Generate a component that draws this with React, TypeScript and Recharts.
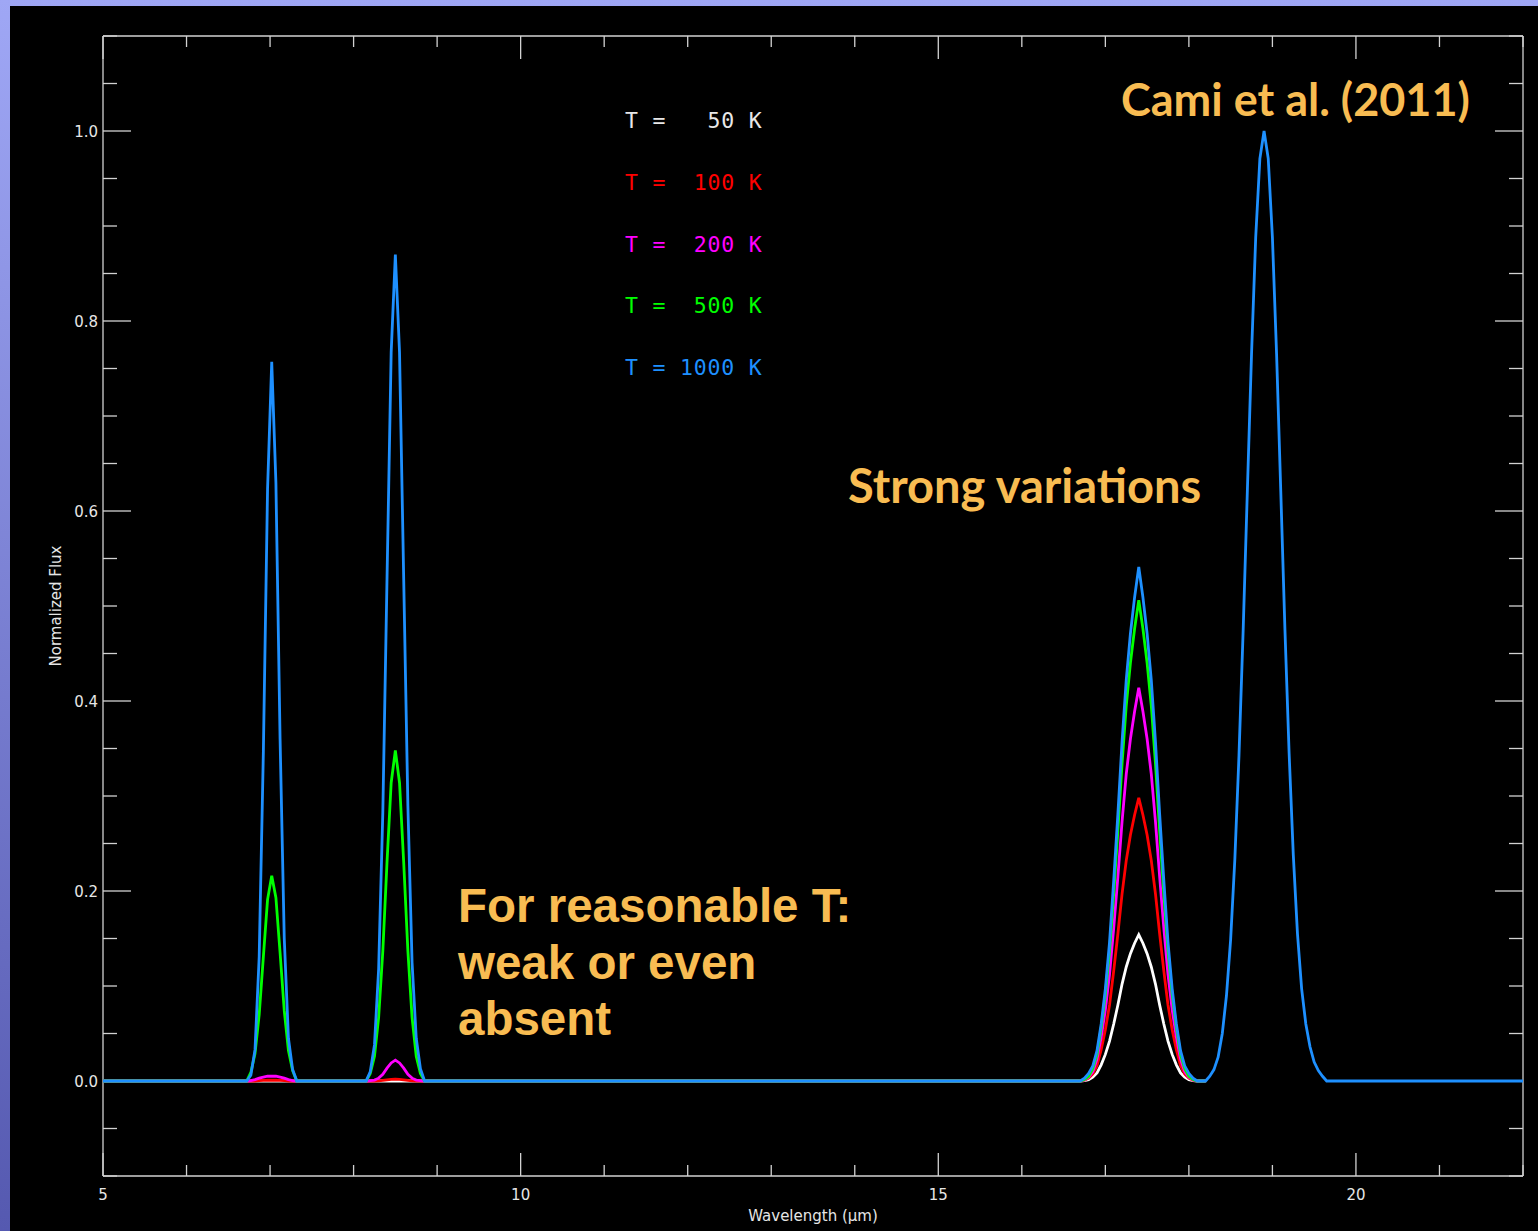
import { Line, LineChart, XAxis, YAxis } from "recharts"

// wavelength grid (micron): flat continuum ends plus the four band regions
const wavelength = [
  5.0,
  6.72, 6.77, 6.82, 6.87, 6.92, 6.97, 7.02, 7.07, 7.12, 7.17, 7.22, 7.27, 7.32,
  8.15, 8.2, 8.25, 8.3, 8.35, 8.4, 8.45, 8.5, 8.55, 8.6, 8.65, 8.7, 8.75, 8.8, 8.85,
  16.7, 16.75, 16.8, 16.85, 16.9, 16.95, 17.0, 17.05, 17.1, 17.15, 17.2, 17.25, 17.3, 17.35,
  17.4, 17.45, 17.5, 17.55, 17.6, 17.65, 17.7, 17.75, 17.8, 17.85, 17.9, 17.95, 18.0, 18.05, 18.1,
  18.15, 18.2, 18.25, 18.3, 18.35, 18.4, 18.45, 18.5, 18.55, 18.6, 18.65, 18.7, 18.75, 18.8,
  18.85, 18.9, 18.95, 19.0, 19.05, 19.1, 19.15, 19.2, 19.25, 19.3, 19.35, 19.4, 19.45, 19.5,
  19.55, 19.6, 19.65,
  22.0,
]

// the cooler models stop just past 18.2 micron (null = no data)
const flux50 = [
  0,
  0, 0, 0, 0, 0, 0, 0, 0, 0, 0, 0, 0, 0,
  0, 0, 0, 0, 0, 0, 0, 0, 0, 0, 0, 0, 0, 0, 0,
  0, 0.0005, 0.0015, 0.004, 0.0085, 0.017, 0.028, 0.042, 0.06, 0.08, 0.102, 0.12, 0.134, 0.145,
  0.154, 0.145, 0.134, 0.12, 0.102, 0.08, 0.06, 0.042, 0.028, 0.017, 0.0085, 0.004, 0.0015, 0.0005, 0,
  0, 0, null, null, null, null, null, null, null, null, null, null, null, null,
  null, null, null, null, null, null, null, null, null, null, null, null, null, null,
  null, null, null,
  null,
]

const flux100 = [
  0,
  0, 0, 0, 0.0003, 0.0006, 0.0008, 0.001, 0.0008, 0.0006, 0.0003, 0, 0, 0,
  0, 0, 0, 0.0002, 0.0006, 0.0012, 0.0018, 0.002, 0.0018, 0.0012, 0.0006, 0.0002, 0, 0, 0,
  0, 0.001, 0.003, 0.0075, 0.016, 0.033, 0.054, 0.08, 0.116, 0.155, 0.197, 0.232, 0.259, 0.28,
  0.298, 0.28, 0.259, 0.232, 0.197, 0.155, 0.116, 0.08, 0.054, 0.033, 0.016, 0.0075, 0.003, 0.001, 0,
  0, 0, null, null, null, null, null, null, null, null, null, null, null, null,
  null, null, null, null, null, null, null, null, null, null, null, null, null, null,
  null, null, null,
  null,
]

const flux200 = [
  0,
  0, 0.0005, 0.0015, 0.003, 0.004, 0.005, 0.005, 0.005, 0.004, 0.003, 0.0015, 0.0005, 0,
  0, 0.0005, 0.001, 0.003, 0.007, 0.0135, 0.019, 0.022, 0.019, 0.0135, 0.007, 0.003, 0.001, 0.0005, 0,
  0, 0.001, 0.004, 0.01, 0.023, 0.046, 0.075, 0.112, 0.161, 0.215, 0.273, 0.323, 0.36, 0.389,
  0.414, 0.389, 0.36, 0.323, 0.273, 0.215, 0.161, 0.112, 0.075, 0.046, 0.023, 0.01, 0.004, 0.001, 0,
  0, 0, null, null, null, null, null, null, null, null, null, null, null, null,
  null, null, null, null, null, null, null, null, null, null, null, null, null, null,
  null, null, null,
  null,
]

const flux500 = [
  0,
  0, 0.009, 0.029, 0.07, 0.131, 0.191, 0.216, 0.193, 0.135, 0.074, 0.032, 0.011, 0,
  0, 0.008, 0.026, 0.067, 0.137, 0.23, 0.314, 0.348, 0.314, 0.23, 0.137, 0.067, 0.026, 0.008, 0,
  0, 0.0015, 0.005, 0.013, 0.028, 0.056, 0.091, 0.137, 0.197, 0.263, 0.334, 0.395, 0.44, 0.476,
  0.506, 0.476, 0.44, 0.395, 0.334, 0.263, 0.197, 0.137, 0.091, 0.056, 0.028, 0.013, 0.005, 0.0015, 0,
  0, 0, null, null, null, null, null, null, null, null, null, null, null, null,
  null, null, null, null, null, null, null, null, null, null, null, null, null, null,
  null, null, null,
  null,
]

const flux1000 = [
  0,
  0, 0.006, 0.033, 0.131, 0.347, 0.623, 0.757, 0.63, 0.36, 0.15, 0.045, 0.012, 0,
  0, 0.01, 0.038, 0.118, 0.283, 0.528, 0.767, 0.87, 0.767, 0.528, 0.29, 0.125, 0.045, 0.013, 0,
  0, 0.003, 0.008, 0.016, 0.032, 0.06, 0.097, 0.146, 0.211, 0.281, 0.357, 0.422, 0.471, 0.509,
  0.541, 0.509, 0.471, 0.422, 0.357, 0.281, 0.211, 0.146, 0.097, 0.06, 0.032, 0.016, 0.008, 0.003, 0,
  0, 0, 0.005, 0.012, 0.025, 0.05, 0.09, 0.149, 0.233, 0.343, 0.475, 0.621, 0.765, 0.888,
  0.971, 1.0, 0.971, 0.888, 0.765, 0.621, 0.475, 0.345, 0.238, 0.155, 0.097, 0.06, 0.036, 0.02,
  0.011, 0.005, 0,
  0,
]

const xTicks = [5, 6, 7, 8, 9, 10, 11, 12, 13, 14, 15, 16, 17, 18, 19, 20, 21, 22]
const yTicks = [
  -0.1, -0.05, 0, 0.05, 0.1, 0.15, 0.2, 0.25, 0.3, 0.35, 0.4, 0.45, 0.5, 0.55, 0.6,
  0.65, 0.7, 0.75, 0.8, 0.85, 0.9, 0.95, 1.0, 1.05, 1.1,
]

const legendLabels = ["T =   50 K", "T =  100 K", "T =  200 K", "T =  500 K", "T = 1000 K"]
const seriesKeys = ["t50", "t100", "t200", "t500", "t1000"]
const seriesColors = ["#ffffff", "#ff0000", "#ff00ff", "#00ff00", "#1e90ff"]

const W = 1538
const H = 1231
const PLOT = { left: 103, right: 1523, top: 36, bottom: 1176 }
const AXIS = "#d2d2d2"
const LABEL = "#e6e6e6"
const ORANGE = "#f8bc52"

const rows = wavelength.map((w, i) => ({
  w,
  t50: flux50[i],
  t100: flux100[i],
  t200: flux200[i],
  t500: flux500[i],
  t1000: flux1000[i],
}))

const isMajorX = (v: number) => v % 5 === 0
const isMajorY = (v: number) => Math.abs(v / 0.2 - Math.round(v / 0.2)) < 1e-6

function BottomTick(props: any) {
  const { x, payload } = props
  const v = payload.value
  const major = isMajorX(v)
  return (
    <g>
      <line x1={x} x2={x} y1={PLOT.bottom} y2={PLOT.bottom - (major ? 23 : 11)} stroke={AXIS} strokeWidth={1.3} />
      {major && (
        <text x={x} y={PLOT.bottom + 24} textAnchor="middle" fill={LABEL} fontSize={15} fontFamily="DejaVu Sans">
          {v}
        </text>
      )}
    </g>
  )
}

function TopTick(props: any) {
  const { x, payload } = props
  const len = isMajorX(payload.value) ? 23 : 11
  return <line x1={x} x2={x} y1={PLOT.top} y2={PLOT.top + len} stroke={AXIS} strokeWidth={1.3} />
}

function LeftTick(props: any) {
  const { y, payload } = props
  const v = payload.value
  const major = isMajorY(v)
  return (
    <g>
      <line x1={PLOT.left} x2={PLOT.left + (major ? 28 : 14)} y1={y} y2={y} stroke={AXIS} strokeWidth={1.3} />
      {major && (
        <text x={PLOT.left - 5} y={y + 6} textAnchor="end" fill={LABEL} fontSize={15} fontFamily="DejaVu Sans">
          {v.toFixed(1)}
        </text>
      )}
    </g>
  )
}

function RightTick(props: any) {
  const { y, payload } = props
  const len = isMajorY(payload.value) ? 28 : 14
  return <line x1={PLOT.right} x2={PLOT.right - len} y1={y} y2={y} stroke={AXIS} strokeWidth={1.3} />
}

const layer = { position: "absolute" as const, left: 0, top: 0 }

export default function App() {
  return (
    <div
      style={{
        position: "absolute",
        left: 0,
        top: 0,
        width: W,
        height: H,
        overflow: "hidden",
        background: "linear-gradient(to bottom, #9fa7f5, #5559b0)",
      }}
    >
      <div style={{ position: "absolute", left: 10, top: 6, right: 0, bottom: 0, background: "#000" }} />

      {/* frame, ticks and tick labels */}
      <div style={layer}>
        <LineChart width={W} height={H} data={rows} margin={{ top: 0, right: 0, bottom: 0, left: 43 }}>
          <XAxis
            dataKey="w"
            type="number"
            domain={[5, 22]}
            ticks={xTicks}
            interval={0}
            height={55}
            tickSize={0}
            tickMargin={0}
            tickLine={false}
            tick={BottomTick}
            axisLine={{ stroke: AXIS, strokeWidth: 1.3 }}
            allowDataOverflow
          />
          <XAxis
            xAxisId="top"
            orientation="top"
            dataKey="w"
            type="number"
            domain={[5, 22]}
            ticks={xTicks}
            interval={0}
            height={36}
            tickSize={0}
            tickMargin={0}
            tickLine={false}
            tick={TopTick}
            axisLine={{ stroke: AXIS, strokeWidth: 1.3 }}
            allowDataOverflow
          />
          <YAxis
            type="number"
            domain={[-0.1, 1.1]}
            ticks={yTicks}
            interval={0}
            width={60}
            tickSize={0}
            tickMargin={0}
            tickLine={false}
            tick={LeftTick}
            axisLine={{ stroke: AXIS, strokeWidth: 1.3 }}
            allowDataOverflow
          />
          <YAxis
            yAxisId="right"
            orientation="right"
            type="number"
            domain={[-0.1, 1.1]}
            ticks={yTicks}
            interval={0}
            width={15}
            tickSize={0}
            tickMargin={0}
            tickLine={false}
            tick={RightTick}
            axisLine={{ stroke: AXIS, strokeWidth: 1.3 }}
            allowDataOverflow
          />
        </LineChart>
      </div>

      {/* spectra, drawn above the axes */}
      <div style={layer}>
        <LineChart
          width={W}
          height={H}
          data={rows}
          margin={{ top: PLOT.top, right: W - PLOT.right, bottom: H - PLOT.bottom, left: PLOT.left }}
        >
          <XAxis dataKey="w" type="number" domain={[5, 22]} hide allowDataOverflow />
          <YAxis type="number" domain={[-0.1, 1.1]} hide allowDataOverflow />
          {seriesKeys.map((k, i) => (
            <Line
              key={k}
              dataKey={k}
              type="linear"
              stroke={seriesColors[i]}
              strokeWidth={2.8}
              dot={false}
              activeDot={false}
              connectNulls={false}
              isAnimationActive={false}
            />
          ))}
        </LineChart>
      </div>

      <svg width={W} height={H} style={{ ...layer, pointerEvents: "none" }}>
        <text x={(PLOT.left + PLOT.right) / 2} y={1221} textAnchor="middle" fill={LABEL} fontSize={15} fontFamily="DejaVu Sans">
          Wavelength (μm)
        </text>
        <text
          x={61}
          y={(PLOT.top + PLOT.bottom) / 2}
          transform={`rotate(-90 61 ${(PLOT.top + PLOT.bottom) / 2})`}
          textAnchor="middle"
          fill={LABEL}
          fontSize={15}
          fontFamily="DejaVu Sans"
        >
          Normalized Flux
        </text>
        {legendLabels.map((t, i) => (
          <text
            key={t}
            x={625}
            y={128 + i * 61.75}
            fill={i === 0 ? "#e8e8e8" : seriesColors[i]}
            fontSize={21.5}
            letterSpacing={0.8}
            fontFamily="DejaVu Sans Mono"
            style={{ whiteSpace: "pre" }}
          >
            {t}
          </text>
        ))}
        <text x={1121} y={116} fill={ORANGE} fontSize={45} fontWeight={700} fontFamily="Lato">
          Cami et al. (2011)
        </text>
        <text x={848} y={503} fill={ORANGE} fontSize={47} fontWeight={700} fontFamily="Lato">
          Strong variations
        </text>
        <g fill={ORANGE} fontSize={47.5} fontWeight={700} fontFamily="Liberation Sans">
          <text x={458} y={922}>For reasonable T:</text>
          <text x={458} y={979}>weak or even</text>
          <text x={458} y={1035}>absent</text>
        </g>
      </svg>
    </div>
  )
}
